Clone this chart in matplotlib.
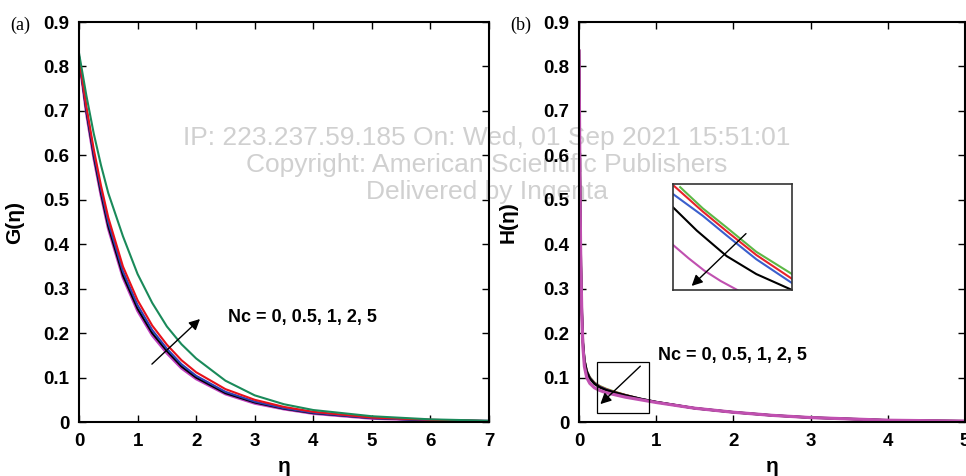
#!/usr/bin/env python

import matplotlib
matplotlib.use("Agg")
import matplotlib.pyplot as plt

plt.rcParams['font.family'] = ['Liberation Sans', 'DejaVu Sans']

# panel (a): G(eta) for Nc = 0, 0.5, 1, 2, 5
eta_a = [0, 0.125, 0.25, 0.375, 0.5, 0.75, 1, 1.25, 1.5, 1.75, 2, 2.5, 3, 3.5, 4, 5, 6, 7]
G_nc0 = [0.82, 0.695, 0.595, 0.51, 0.435, 0.325, 0.25, 0.195, 0.155, 0.121, 0.097, 0.063, 0.042, 0.029, 0.019, 0.008, 0.004, 0.002]
G_nc05 = [0.82, 0.70, 0.60, 0.515, 0.44, 0.33, 0.255, 0.20, 0.16, 0.125, 0.10, 0.065, 0.044, 0.030, 0.020, 0.009, 0.004, 0.002]
G_nc1 = [0.82, 0.705, 0.607, 0.523, 0.449, 0.339, 0.263, 0.207, 0.165, 0.130, 0.104, 0.068, 0.046, 0.031, 0.021, 0.009, 0.004, 0.002]
G_nc2 = [0.82, 0.71, 0.615, 0.532, 0.46, 0.35, 0.274, 0.217, 0.174, 0.139, 0.112, 0.074, 0.050, 0.034, 0.023, 0.010, 0.005, 0.002]
G_nc5 = [0.83, 0.735, 0.65, 0.578, 0.515, 0.418, 0.333, 0.268, 0.215, 0.175, 0.143, 0.093, 0.060, 0.040, 0.027, 0.013, 0.006, 0.003]

# panel (b): H(eta)
eta_b = [0, 0.01, 0.02, 0.035, 0.05, 0.07, 0.1, 0.14, 0.2, 0.27, 0.35, 0.45, 0.6, 0.8, 1.0, 1.5, 2.0, 2.5, 3.0, 3.5, 4.0, 4.5, 5.0]
H_nc0 = [0.835, 0.60, 0.40, 0.26, 0.18, 0.141, 0.116, 0.101, 0.089, 0.081, 0.075, 0.069, 0.061, 0.052, 0.045, 0.031, 0.022, 0.015, 0.010, 0.007, 0.004, 0.003, 0.002]
H_nc05 = [0.835, 0.60, 0.40, 0.26, 0.18, 0.140, 0.115, 0.100, 0.088, 0.080, 0.074, 0.068, 0.061, 0.052, 0.045, 0.031, 0.022, 0.015, 0.010, 0.007, 0.004, 0.003, 0.002]
H_nc1 = [0.835, 0.60, 0.40, 0.26, 0.18, 0.139, 0.114, 0.099, 0.087, 0.079, 0.073, 0.067, 0.060, 0.052, 0.045, 0.031, 0.022, 0.015, 0.010, 0.007, 0.004, 0.003, 0.002]
H_nc2 = [0.835, 0.60, 0.40, 0.26, 0.18, 0.138, 0.113, 0.098, 0.086, 0.078, 0.072, 0.067, 0.060, 0.052, 0.045, 0.031, 0.022, 0.015, 0.010, 0.007, 0.004, 0.003, 0.002]
H_nc5 = [0.835, 0.59, 0.39, 0.25, 0.17, 0.125, 0.10, 0.087, 0.077, 0.071, 0.066, 0.062, 0.056, 0.050, 0.044, 0.031, 0.022, 0.015, 0.010, 0.007, 0.004, 0.003, 0.002]

# zoomed inset of panel (b), inset coordinates 0..1
ins_green_u = [0.06, 0.25, 0.45, 0.7, 1.0]
ins_green_v = [0.97, 0.77, 0.59, 0.36, 0.15]
ins_red_u = [0.01, 0.25, 0.45, 0.7, 1.0]
ins_red_v = [0.98, 0.74, 0.555, 0.33, 0.105]
ins_blue_u = [0.0, 0.25, 0.45, 0.7, 1.0]
ins_blue_v = [0.905, 0.70, 0.515, 0.29, 0.065]
ins_black_u = [0.0, 0.2, 0.45, 0.7, 1.0]
ins_black_v = [0.78, 0.56, 0.32, 0.15, 0.0]
ins_mag_u = [0.0, 0.13, 0.26, 0.4, 0.54]
ins_mag_v = [0.425, 0.30, 0.185, 0.085, 0.0]

label = "Nc = 0, 0.5, 1, 2, 5"

fig = plt.figure(figsize=(9.66, 4.76), dpi=100)
axa = fig.add_axes([0.0818, 0.1134, 0.4244, 0.8403])
axb = fig.add_axes([0.5994, 0.1134, 0.3996, 0.8403])


def style(ax, xmax):
        ax.set_facecolor('none')
        ax.set_xlim(0, xmax)
        ax.set_ylim(0, 0.9)
        ax.set_xticks(range(0, xmax + 1))
        ax.set_yticks([i / 10 for i in range(10)])
        ax.set_yticklabels(["0"] + ["%.1f" % (i / 10) for i in range(1, 10)])
        ax.tick_params(direction='in', length=5, width=1, top=True, right=True,
                       labelsize=13.5)
        ax.tick_params(axis='y', pad=7)
        ax.tick_params(axis='x', pad=8)
        for lab in ax.get_xticklabels() + ax.get_yticklabels():
                lab.set_fontweight('bold')
        for s in ax.spines.values():
                s.set_linewidth(1.5)
        ax.set_xlabel("η", fontsize=15, fontweight='bold')
        ax.xaxis.set_label_coords(0.5, -0.088)


# panel (a)
style(axa, 7)
axa.plot(eta_a, G_nc0, color='#c040c0', lw=2)
axa.plot(eta_a, G_nc05, color='black', lw=1.5)
axa.plot(eta_a, G_nc1, color='#2b3fb5', lw=1.5)
axa.plot(eta_a, G_nc2, color='#e8101a', lw=1.5)
axa.plot(eta_a, G_nc5, color='#1a8a5a', lw=1.5)
axa.set_ylabel("G(η)", fontsize=15, fontweight='bold')
axa.yaxis.set_label_coords(-0.135, 0.5)
axa.annotate("", xy=(2.1, 0.236), xytext=(1.21, 0.126),
             arrowprops=dict(arrowstyle='-|>', color='black', lw=1,
                             mutation_scale=16))
axa.text(2.54, 0.236, label, fontsize=13, fontweight='bold', va='center')

# panel (b)
style(axb, 5)
axb.plot(eta_b, H_nc0, color='#5cb845', lw=1.5)
axb.plot(eta_b, H_nc05, color='#e8222a', lw=1.5)
axb.plot(eta_b, H_nc1, color='#3a5fcd', lw=1.5)
axb.plot(eta_b, H_nc2, color='black', lw=1.8)
axb.plot(eta_b, H_nc5, color='#c050b0', lw=2.3)
axb.set_ylabel("H(η)", fontsize=15, fontweight='bold')
axb.yaxis.set_label_coords(-0.16, 0.5)
axb.add_patch(plt.Rectangle((0.23, 0.02), 0.68, 0.115, fill=False,
                            edgecolor='black', lw=0.9, zorder=5))
axb.annotate("", xy=(0.25, 0.036), xytext=(0.82, 0.13),
             arrowprops=dict(arrowstyle='-|>', color='black', lw=1,
                             mutation_scale=16))
axb.text(1.02, 0.15, label, fontsize=13, fontweight='bold', va='center')

# inset
axi = fig.add_axes([0.6967, 0.3908, 0.1232, 0.2227])
axi.set_xlim(0, 1)
axi.set_ylim(0, 1)
axi.set_xticks([])
axi.set_yticks([])
for s in axi.spines.values():
        s.set_linewidth(1.2)
        s.set_color('#333333')
axi.plot(ins_green_u, ins_green_v, color='#5cb845', lw=1.5)
axi.plot(ins_red_u, ins_red_v, color='#e8222a', lw=1.5)
axi.plot(ins_blue_u, ins_blue_v, color='#3a5fcd', lw=1.5)
axi.plot(ins_black_u, ins_black_v, color='black', lw=1.5)
axi.plot(ins_mag_u, ins_mag_v, color='#c050b0', lw=1.5)
axi.annotate("", xy=(0.14, 0.02), xytext=(0.63, 0.55),
             arrowprops=dict(arrowstyle='-|>', color='black', lw=1,
                             mutation_scale=16))

# panel letters
fig.text(10 / 966, 1 - 25 / 476, "(a)", fontsize=13, family='Liberation Serif',
         va='center')
fig.text(510 / 966, 1 - 25 / 476, "(b)", fontsize=13, family='Liberation Serif',
         va='center')

# watermark, behind the axes
wm = ["IP: 223.237.59.185 On: Wed, 01 Sep 2021 15:51:01",
      "Copyright: American Scientific Publishers",
      "Delivered by Ingenta"]
for i, line in enumerate(wm):
        fig.text(0.504, 1 - (138 + 27 * i) / 476, line, fontsize=19,
                 color='#d0d0d0', ha='center', va='center', zorder=-1)

plt.savefig("out.png", dpi=100)
plt.close()
